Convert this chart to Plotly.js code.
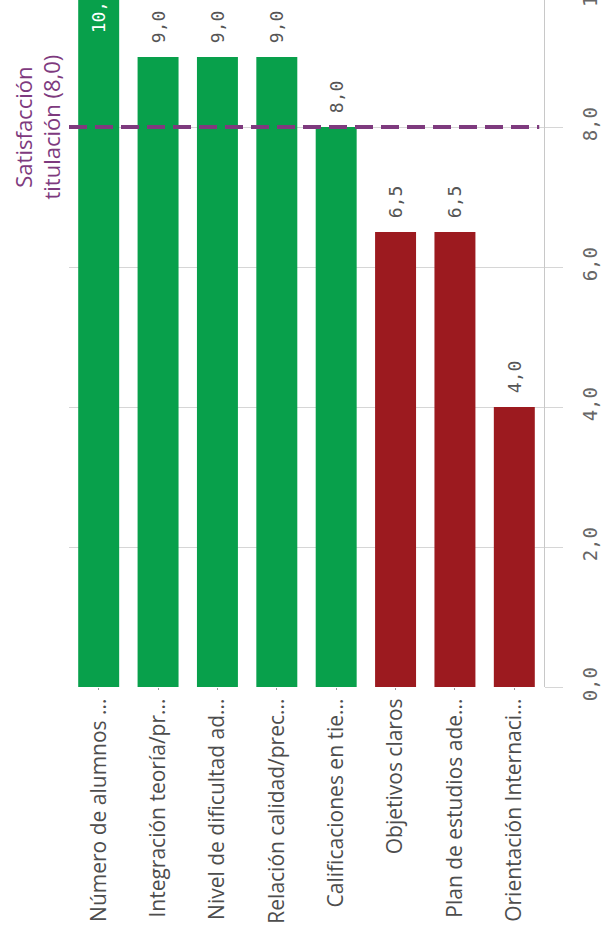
<!DOCTYPE html>
<html><head><meta charset="utf-8">
<script src="https://cdn.plot.ly/plotly-3.0.1.min.js"></script>
<style>html,body{margin:0;padding:0;overflow:hidden;background:#fff;width:604px;height:947px;}
#chart{position:absolute;left:0;top:-50px;width:604px;height:997px;}</style>
</head><body><div id="chart"></div>
<script>
const categories = ["Número de alumnos ...", "Integración teoría/pr...", "Nivel de dificultad ad...", "Relación calidad/prec...", "Calificaciones en tie...", "Objetivos claros", "Plan de estudios ade...", "Orientación Internaci..."];
const values = [10.0, 9.0, 9.0, 9.0, 8.0, 6.5, 6.5, 4.0];
const satisfaction = 8.0;
const satisfactionLabel = "Satisfacción<br>titulación (8,0)";
const yTicks = [0, 2, 4, 6, 8, 10];

const GREEN = "#08a04b", RED = "#9c1a1f", PURPLE = "#7e3a7e";
const barColors = values.map(v => v >= satisfaction ? GREEN : RED);
const textPos = values.map((v, i) => i === 0 ? "inside" : "outside");
const textColors = values.map((v, i) => i === 0 ? "#ffffff" : "#555555");

const trace = {
  type: "bar", x: categories, y: values,
  marker: {color: barColors},
  texttemplate: "\u2009%{y:.1f}", textposition: textPos, textangle: -90,
  insidetextanchor: "end", constraintext: "none",
  textfont: {family: "DejaVu Sans Mono", size: 18, color: textColors},
  insidetextfont: {family: "DejaVu Sans Mono", size: 18, color: "#ffffff"},
  outsidetextfont: {family: "DejaVu Sans Mono", size: 18, color: "#555555"},
  cliponaxis: false, hoverinfo: "skip"
};

const layout = {
  width: 604, height: 997,
  margin: {l: 69, r: 60, t: 9, b: 260},
  paper_bgcolor: "#fff", plot_bgcolor: "#fff",
  separators: ",.",
  bargap: 0.31, showlegend: false,
  xaxis: {
    type: "category", tickangle: -90, automargin: false,
    tickfont: {family: "Open Sans", size: 21, color: "#4d4d4d"},
    ticks: "outside", ticklen: 2, tickcolor: "#999",
    showline: false, showgrid: false
  },
  yaxis: {
    side: "right", range: [0, 10.4], tickvals: yTicks, tickformat: ".1f",
    tickangle: -90, automargin: false, ticklabelstandoff: 11,
    tickfont: {family: "DejaVu Sans Mono", size: 19, color: "#666"},
    showline: true, linecolor: "#c8c8c8", linewidth: 1,
    showgrid: true, gridcolor: "#d6d6d6", gridwidth: 1, zeroline: false,
    ticks: "outside", ticklen: 18, tickcolor: "#d6d6d6"
  },
  shapes: [{
    type: "line", xref: "paper", x0: 0, x1: 0.99, yref: "y", y0: satisfaction, y1: satisfaction,
    line: {color: PURPLE, width: 4, dash: "18px,8px"}
  }],
  annotations: [{
    text: satisfactionLabel, xref: "paper", x: -0.002, xanchor: "right", yref: "y", y: satisfaction,
    yanchor: "middle", textangle: -90, align: "center", showarrow: false,
    font: {family: "Open Sans", size: 22, color: PURPLE}
  }]
};
Plotly.newPlot("chart", [trace], layout, {displayModeBar: false, staticPlot: true});
</script></body></html>
